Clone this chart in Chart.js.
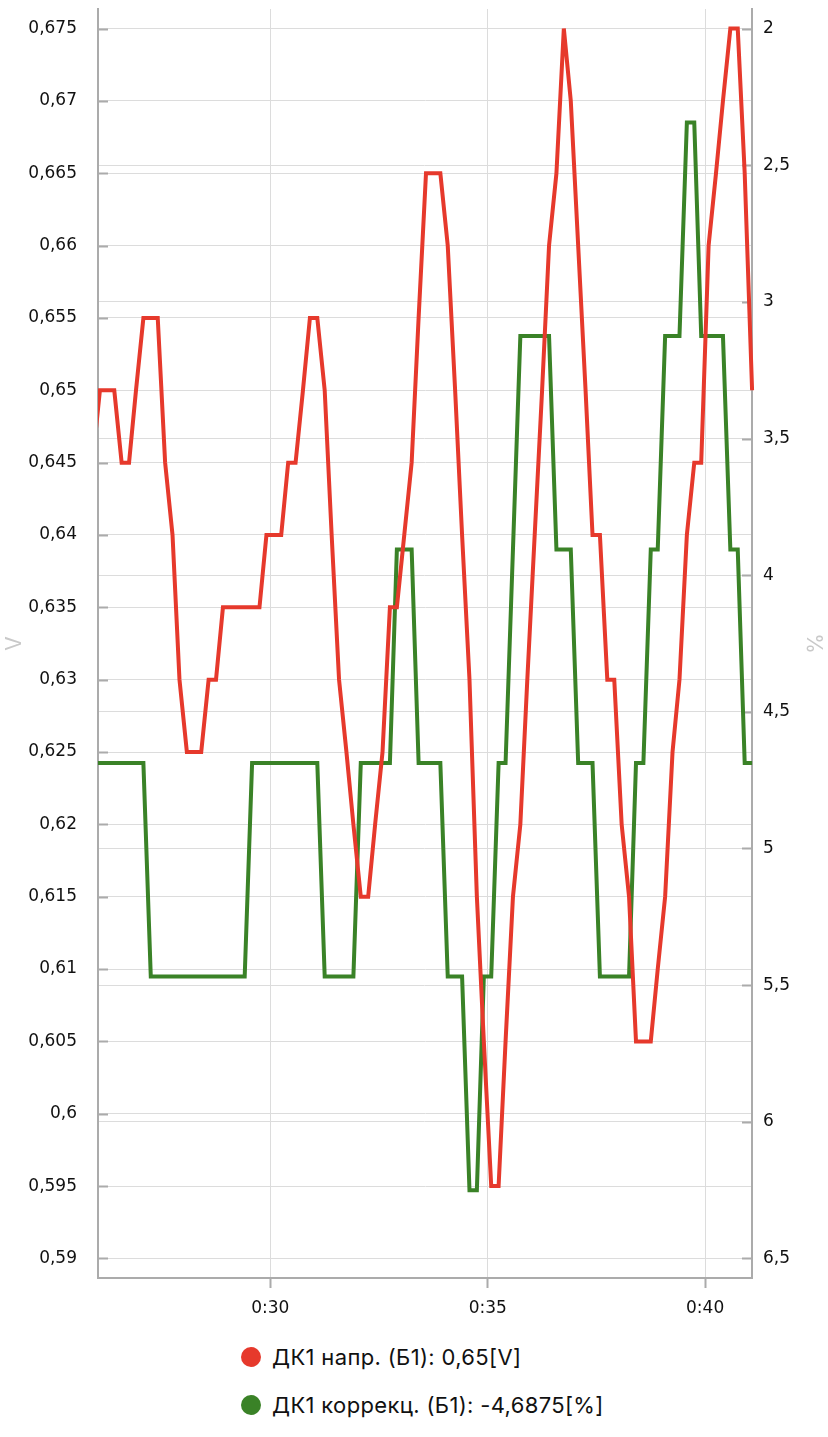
<!DOCTYPE html>
<html>
<head>
<meta charset="utf-8">
<script src="https://cdn.jsdelivr.net/npm/chart.js@4.4.1/dist/chart.umd.min.js"></script>
<style>
  html, body { margin: 0; padding: 0; background: #ffffff; }
  #wrap { position: relative; width: 828px; height: 1437px; overflow: hidden; }
  #c { position: absolute; left: 0; top: 0; }
  .lg { position: absolute; left: 241px; height: 26px; display: flex; align-items: center;
        font-family: Inter, "Noto Sans", sans-serif; font-size: 22px; letter-spacing: 0.35px;
        color: #111; white-space: nowrap; }
  .lg .dot { width: 20px; height: 20px; border-radius: 50%; margin-right: 11px; flex: none; }
</style>
</head>
<body>
<div id="wrap">
  <canvas id="c" width="828" height="1330"></canvas>
</div>
<script>
// ---- data ----
const times = [
  25.91,
  26.08, 26.25, 26.41, 26.58, 26.75, 26.91,
  27.08, 27.25, 27.41, 27.58, 27.75, 27.91,
  28.08, 28.25, 28.41, 28.58, 28.75, 28.91,
  29.08, 29.25, 29.41, 29.58, 29.75, 29.91,
  30.08, 30.25, 30.41, 30.58, 30.75, 30.91,
  31.08, 31.25, 31.41, 31.58, 31.75, 31.91,
  32.08, 32.25, 32.41, 32.58, 32.75, 32.91,
  33.08, 33.25, 33.41, 33.58, 33.75, 33.91,
  34.08, 34.25, 34.41, 34.58, 34.75, 34.91,
  35.08, 35.25, 35.41, 35.58, 35.75, 35.91,
  36.08, 36.25, 36.41, 36.58, 36.75, 36.91,
  37.08, 37.25, 37.41, 37.58, 37.75, 37.91,
  38.08, 38.25, 38.41, 38.58, 38.75, 38.91,
  39.08, 39.25, 39.41, 39.58, 39.75, 39.91,
  40.08, 40.25, 40.41, 40.58, 40.75, 40.91,
  41.08
];
const voltage = [
  0.645,
  0.65, 0.65, 0.65, 0.645, 0.645, 0.65,
  0.655, 0.655, 0.655, 0.645, 0.64, 0.63,
  0.625, 0.625, 0.625, 0.63, 0.63, 0.635,
  0.635, 0.635, 0.635, 0.635, 0.635, 0.64,
  0.64, 0.64, 0.645, 0.645, 0.65, 0.655,
  0.655, 0.65, 0.64, 0.63, 0.625, 0.62,
  0.615, 0.615, 0.62, 0.625, 0.635, 0.635,
  0.64, 0.645, 0.655, 0.665, 0.665, 0.665,
  0.66, 0.65, 0.64, 0.63, 0.615, 0.605,
  0.595, 0.595, 0.605, 0.615, 0.62, 0.63,
  0.64, 0.65, 0.66, 0.665, 0.675, 0.67,
  0.66, 0.65, 0.64, 0.64, 0.63, 0.63,
  0.62, 0.615, 0.605, 0.605, 0.605, 0.61,
  0.615, 0.625, 0.63, 0.64, 0.645, 0.645,
  0.66, 0.665, 0.67, 0.675, 0.675, 0.665,
  0.65
];
const correction = [
  -4.6875,
  -4.6875, -4.6875, -4.6875, -4.6875, -4.6875, -4.6875,
  -4.6875, -5.46875, -5.46875, -5.46875, -5.46875, -5.46875,
  -5.46875, -5.46875, -5.46875, -5.46875, -5.46875, -5.46875,
  -5.46875, -5.46875, -5.46875, -4.6875, -4.6875, -4.6875,
  -4.6875, -4.6875, -4.6875, -4.6875, -4.6875, -4.6875,
  -4.6875, -5.46875, -5.46875, -5.46875, -5.46875, -5.46875,
  -4.6875, -4.6875, -4.6875, -4.6875, -4.6875, -3.90625,
  -3.90625, -3.90625, -4.6875, -4.6875, -4.6875, -4.6875,
  -5.46875, -5.46875, -5.46875, -6.25, -6.25, -5.46875,
  -5.46875, -4.6875, -4.6875, -3.90625, -3.125, -3.125,
  -3.125, -3.125, -3.125, -3.90625, -3.90625, -3.90625,
  -4.6875, -4.6875, -4.6875, -5.46875, -5.46875, -5.46875,
  -5.46875, -5.46875, -4.6875, -4.6875, -3.90625, -3.90625,
  -3.125, -3.125, -3.125, -2.34375, -2.34375, -3.125,
  -3.125, -3.125, -3.125, -3.90625, -3.90625, -4.6875,
  -4.6875
];
const seriesLabels = ['ДК1 напр. (Б1): 0,65[V]', 'ДК1 коррекц. (Б1): -4,6875[%]'];
const seriesColors = ['#e6392c', '#3a8227'];

const xTickValues = [30, 35, 40];
const xTickLabels = ['0:30', '0:35', '0:40'];
const leftTickValues = [0.59, 0.595, 0.6, 0.605, 0.61, 0.615, 0.62, 0.625, 0.63, 0.635, 0.64, 0.645, 0.65, 0.655, 0.66, 0.665, 0.67, 0.675];
const leftTickLabels = ['0,59', '0,595', '0,6', '0,605', '0,61', '0,615', '0,62', '0,625', '0,63', '0,635', '0,64', '0,645', '0,65', '0,655', '0,66', '0,665', '0,67', '0,675'];
const rightTickValues = [-6.5, -6, -5.5, -5, -4.5, -4, -3.5, -3, -2.5, -2];
const rightTickLabels = ['6,5', '6', '5,5', '5', '4,5', '4', '3,5', '3', '2,5', '2'];

// ---- chart ----
const TICKFONT = '"DejaVu Sans", sans-serif';
const TITLEFONT = 'Inter, "Noto Sans", sans-serif';
const GRID = '#dcdcdc';
const AXIS = '#ababab';

const innerTicks = {
  id: 'innerTicks',
  beforeDatasetsDraw(chart) {
    const ctx = chart.ctx;
    ctx.save();
    ctx.strokeStyle = AXIS;
    ctx.lineWidth = 2;
    [['yL', 1], ['yR', -1]].forEach(([id, dir]) => {
      const s = chart.scales[id];
      const x0 = id === 'yL' ? chart.chartArea.left : chart.chartArea.right;
      s.ticks.forEach(t => {
        const y = Math.round(s.getPixelForValue(t.value)) + 0.5;
        ctx.beginPath();
        ctx.moveTo(x0, y);
        ctx.lineTo(x0 + dir * 10, y);
        ctx.stroke();
      });
    });
    ctx.restore();
  }
};

const xy = (vals) => vals.map((v, i) => ({ x: times[i], y: v }));
const noPad = (s) => { s.paddingTop = 0; s.paddingBottom = 0; s.paddingLeft = 0; s.paddingRight = 0; };

new Chart(document.getElementById('c'), {
  type: 'line',
  data: {
    datasets: [
      { label: seriesLabels[0], data: xy(voltage), yAxisID: 'yL', borderColor: seriesColors[0],
        backgroundColor: seriesColors[0], borderWidth: 4, pointRadius: 0, tension: 0,
        clip: { left: 0, top: 3, right: 3, bottom: 3 } },
      { label: seriesLabels[1], data: xy(correction), yAxisID: 'yR', borderColor: seriesColors[1],
        backgroundColor: seriesColors[1], borderWidth: 4, pointRadius: 0, tension: 0,
        clip: { left: 0, top: 3, right: 3, bottom: 3 } }
    ]
  },
  options: {
    responsive: false,
    animation: false,
    devicePixelRatio: 1,
    layout: { padding: { top: 9, left: 0, right: 0, bottom: 0 } },
    plugins: { legend: { display: false }, tooltip: { enabled: false } },
    scales: {
      x: {
        type: 'linear', min: 26.036, max: 41.078,
        afterBuildTicks: s => { s.ticks = xTickValues.map(v => ({ value: v })); },
        afterFit: s => { s.height = 52; noPad(s); },
        ticks: { autoSkip: false, maxRotation: 0, padding: 10, color: '#111',
                 font: { family: TICKFONT, size: 17 },
                 callback: (v, i) => xTickLabels[i] },
        grid: { color: GRID, lineWidth: 1, drawTicks: true, tickLength: 10, tickColor: AXIS, tickWidth: 2 },
        border: { display: true, color: AXIS, width: 2 }
      },
      yL: {
        type: 'linear', position: 'left', min: 0.58865, max: 0.67635,
        afterBuildTicks: s => { s.ticks = leftTickValues.map(v => ({ value: v })); },
        afterFit: s => { s.width = 98; noPad(s); },
        ticks: { autoSkip: false, padding: 21, color: '#111',
                 font: { family: TICKFONT, size: 17 },
                 callback: (v, i) => leftTickLabels[i] },
        grid: { color: GRID, lineWidth: 1, drawTicks: false },
        border: { display: true, color: AXIS, width: 2 },
        title: { display: true, text: 'V', color: '#c9c9c9', font: { family: TITLEFONT, size: 21 },
                 padding: { top: 2, bottom: 0 } }
      },
      yR: {
        type: 'linear', position: 'right', min: -6.5714, max: -1.9286,
        afterBuildTicks: s => { s.ticks = rightTickValues.map(v => ({ value: v })); },
        afterFit: s => { s.width = 76; noPad(s); },
        ticks: { autoSkip: false, padding: 11, color: '#111',
                 font: { family: TICKFONT, size: 17 },
                 callback: (v, i) => rightTickLabels[i] },
        grid: { color: GRID, lineWidth: 1, drawTicks: false },
        border: { display: true, color: AXIS, width: 2 },
        title: { display: true, text: '%', color: '#c9c9c9', font: { family: TITLEFONT, size: 21 },
                 padding: { top: 2, bottom: 0 } }
      }
    }
  },
  plugins: [innerTicks]
});

// ---- legend (HTML, built from the series names/colours) ----
const legendCenters = [1357, 1405];
const wrap = document.getElementById('wrap');
seriesLabels.forEach((txt, i) => {
  const row = document.createElement('div');
  row.className = 'lg';
  row.style.top = (legendCenters[i] - 13) + 'px';
  const dot = document.createElement('span');
  dot.className = 'dot';
  dot.style.background = seriesColors[i];
  const label = document.createElement('span');
  label.textContent = txt;
  row.appendChild(dot);
  row.appendChild(label);
  wrap.appendChild(row);
});
</script>
</body>
</html>
